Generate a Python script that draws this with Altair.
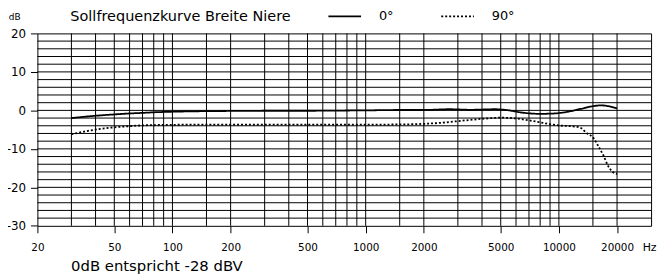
import altair as alt
import pandas as pd

# ---- data ----
series_names = ["0°", "90°"]

freq_0 = [30, 40, 50, 60, 70, 80, 100, 150, 200, 300, 500, 700, 1000, 1500, 2000,
          2700, 3500, 4700, 5500, 6500, 8000, 9500, 11000, 13000, 15000, 16500, 18000, 20000]
db_0 = [-2.0, -1.4, -1.05, -0.8, -0.65, -0.5, -0.35, -0.2, -0.15, -0.1, -0.1, -0.05, 0.0, 0.1, 0.1,
        0.3, 0.15, 0.3, 0.0, -0.6, -0.9, -0.8, -0.4, 0.4, 1.1, 1.3, 1.1, 0.5]

freq_90 = [30, 40, 50, 60, 70, 100, 150, 200, 500, 1000, 1500, 2000, 2500, 3000, 4000, 5000,
           6000, 7000, 8000, 9000, 10000, 12500, 13000, 14000, 15000, 16000, 17000, 18000, 19000, 20000]
db_90 = [-6.2, -5.0, -4.4, -4.1, -3.9, -3.75, -3.7, -3.7, -3.7, -3.7, -3.65, -3.5, -3.2, -2.8, -2.2, -1.9,
         -2.1, -2.6, -3.1, -3.6, -3.9, -4.3, -4.6, -6.0, -7.0, -9.3, -11.7, -14.5, -16.0, -16.5]

grid_freqs = [30, 40, 50, 60, 70, 80, 90, 100, 150, 200, 300, 400, 500, 600, 700, 800, 900,
              1000, 1500, 2000, 3000, 4000, 5000, 6000, 7000, 8000, 9000, 10000, 15000, 20000]
grid_db = [-28, -26, -24, -22, -20, -18, -16, -14, -12, -10, -8, -6, -4, -2, 0,
           2, 4, 6, 8, 10, 12, 14, 16, 18]

x_ticks = [20, 50, 100, 200, 500, 1000, 2000, 5000, 10000, 20000]
y_ticks = [-30, -20, -10, 0, 10, 20]
x_domain = [20, 30000]
y_domain = [-30, 20]

title_text = "Sollfrequenzkurve Breite Niere"
note_text = "0dB entspricht -28 dBV"

FONT = "DejaVu Sans"

curves = pd.DataFrame({
    "f": freq_0 + freq_90,
    "db": db_0 + db_90,
    "series": [series_names[0]] * len(freq_0) + [series_names[1]] * len(freq_90),
})

xscale = alt.Scale(type="log", domain=x_domain, nice=False)
yscale = alt.Scale(domain=y_domain, nice=False, zero=False)

x_axis = alt.Axis(
    values=x_ticks, labelExpr="datum.value + ''", grid=False, domain=False,
    tickSize=7, tickColor="black", tickWidth=1,
    labelPadding=18, labelBaseline="alphabetic", labelFontSize=10.5,
    labelFont=FONT, labelColor="black", labelFlush=False, labelOverlap=False,
    labelBound=False,
    title="Hz", titleX=611, titleY=25, titleAlign="left", titleBaseline="alphabetic",
    titleFontSize=11, titleFontWeight="normal", titleFont=FONT, titleColor="black",
)
y_axis = alt.Axis(
    values=y_ticks, labelExpr="datum.value + ''", grid=False, domain=False,
    tickSize=7, tickColor="black", tickWidth=1,
    labelPadding=5, labelFontSize=12, labelFont=FONT, labelColor="black",
    labelFlush=False, labelOverlap=False, labelBound=False,
    title="dB", titleAngle=0, titleX=-23.5, titleY=-14, titleAlign="center",
    titleBaseline="alphabetic", titleFontSize=9, titleFontWeight="normal",
    titleFont=FONT, titleColor="black",
)

vgrid = alt.Chart(pd.DataFrame({"f": grid_freqs})).mark_rule(
    color="black", strokeWidth=1
).encode(x=alt.X("f:Q", scale=xscale, axis=x_axis))

hgrid = alt.Chart(pd.DataFrame({"db": grid_db})).mark_rule(
    color="black", strokeWidth=1
).encode(y=alt.Y("db:Q", scale=yscale, axis=y_axis))

lines = alt.Chart(curves).mark_line(
    color="black", strokeWidth=1.8, interpolate="monotone"
).encode(
    x=alt.X("f:Q", scale=xscale, axis=x_axis),
    y=alt.Y("db:Q", scale=yscale, axis=y_axis),
    strokeDash=alt.StrokeDash("series:N", scale=alt.Scale(
        domain=series_names, range=[[1, 0], [2, 2]]),
        legend=alt.Legend(
            orient="none", legendX=293, legendY=-35, direction="horizontal",
            title=None, symbolType="stroke", symbolSize=1089, symbolStrokeWidth=1.6,
            symbolStrokeColor="black", labelFontSize=13, labelFont=FONT,
            labelColor="black", labelOffset=17, columnPadding=44, padding=0,
        )),
)

title = alt.Chart(pd.DataFrame({"t": [title_text]})).mark_text(
    align="left", baseline="alphabetic", font=FONT, fontSize=14.6, color="black"
).encode(text="t:N", x=alt.value(33.3), y=alt.value(-13))

note = alt.Chart(pd.DataFrame({"t": [note_text]})).mark_text(
    align="left", baseline="alphabetic", font=FONT, fontSize=15, color="black"
).encode(text="t:N", x=alt.value(34), y=alt.value(240.4))

chart = alt.layer(vgrid, hgrid, lines, title, note).properties(
    width=620, height=194.4,
    autosize=alt.AutoSizeParams(type="none"),
    padding={"left": 29.7, "top": 24.3, "right": 8, "bottom": 49},
    background="white",
).configure_view(stroke="black", strokeWidth=1)

chart.save("out.html", embed_options={"renderer": "svg", "actions": False})
